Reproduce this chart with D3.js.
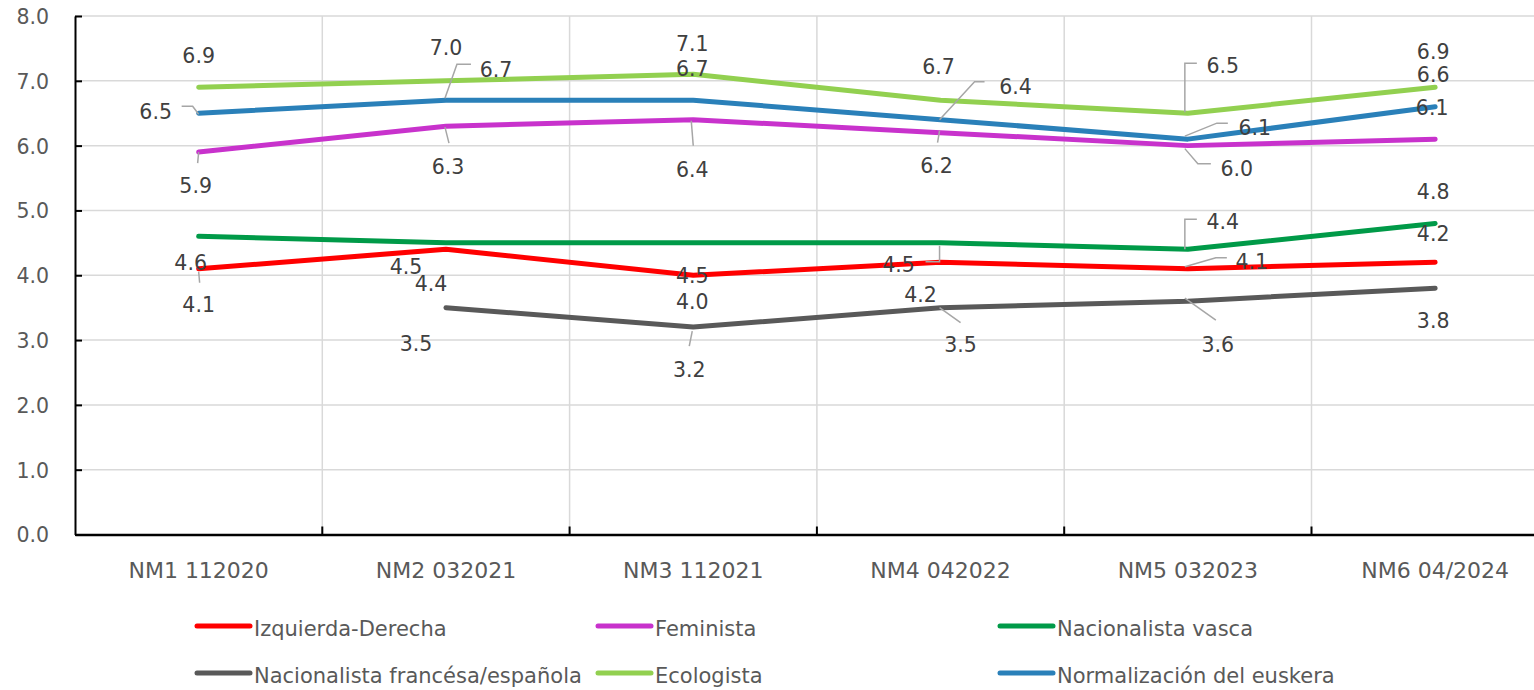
<!DOCTYPE html>
<html>
<head>
<meta charset="utf-8">
<script src="https://cdn.jsdelivr.net/npm/d3@7"></script>
<style>
  html, body { margin: 0; padding: 0; background: #fff; overflow: hidden; }
  svg { display: block; font-family: "DejaVu Sans", sans-serif; }
</style>
</head>
<body>
<svg id="chart" width="1534" height="690"></svg>
<script>
// Survey waves
const categories = ["NM1 112020", "NM2 032021", "NM3 112021", "NM4 042022", "NM5 032023", "NM6 04/2024"];

// Mean scores per axis
const izquierdaDerecha   = [4.1, 4.4, 4.0, 4.2, 4.1, 4.2];
const feminista          = [5.9, 6.3, 6.4, 6.2, 6.0, 6.1];
const nacionalistaVasca  = [4.6, 4.5, 4.5, 4.5, 4.4, 4.8];
const nacionalistaFrEs   = [null, 3.5, 3.2, 3.5, 3.6, 3.8];
const ecologista         = [6.9, 7.0, 7.1, 6.7, 6.5, 6.9];
const normalizacion      = [6.5, 6.7, 6.7, 6.4, 6.1, 6.6];

const seriesNames = [
  "Izquierda-Derecha", "Feminista", "Nacionalista vasca",
  "Nacionalista francésa/española", "Ecologista", "Normalización del euskera"
];
const yTicks = [0, 1, 2, 3, 4, 5, 6, 7, 8];

// ---- presentation ----
const seriesValues = [izquierdaDerecha, feminista, nacionalistaVasca, nacionalistaFrEs, ecologista, normalizacion];
const seriesColors = ["#FF0000", "#C832CC", "#009A48", "#595959", "#92D050", "#2A80B9"];

// Label placement per series / wave: [dx, dy] from the point, optional leader polyline (relative points)
const labelLayout = [
  [ {o:[0,36], l:[[0,3],[1,14]]}, {o:[-15,34]}, {o:[-1,26]}, {o:[-20,32]},
    {o:[64,-7], l:[[-3,-2],[28,-11],[39,-11]]}, {o:[-2,-29]} ],
  [ {o:[-3,34], l:[[0,0],[-1,11]]}, {o:[2,40], l:[[-1,1],[3,17]]}, {o:[-1,50], l:[[-2,1],[0,26]]},
    {o:[-4,33], l:[[-1,-2],[-3,10]]}, {o:[49,23], l:[[-3,3],[10,18],[23,18]]}, {o:[-3,-32]} ],
  [ {o:[-8,26]}, {o:[-40,24]}, {o:[-1,33]}, {o:[-42,22], l:[[-1,3],[-1,19],[-15,19]]},
    {o:[35,-28], l:[[-3,0],[-3,-30],[9,-30]]}, {o:[-2,-32]} ],
  [ null, {o:[-30,36]}, {o:[-4,43], l:[[-1,4],[-4,19]]}, {o:[20,37], l:[[-1,0],[20,15]]},
    {o:[30,43], l:[[-3,-3],[28,19]]}, {o:[-2,32]} ],
  [ {o:[0,-32]}, {o:[0,-33]}, {o:[-1,-31]}, {o:[-2,-34]},
    {o:[35,-48], l:[[-3,-1],[-3,-50],[9,-50]]}, {o:[-2,-36]} ],
  [ {o:[-43,-2], l:[[0,1],[-6,-7],[-17,-7]]}, {o:[50,-31], l:[[-1,-2],[11,-36],[25,-36]]}, {o:[-1,-32]},
    {o:[75,-33], l:[[-1,0],[34,-38],[44,-38]]}, {o:[67,-12], l:[[-3,-3],[29,-16],[40,-16]]}, {o:[-2,-32]} ]
];

const plotLeft = 75, plotTop = 16, plotBottom = 534.5, bandW = 247.3;
const svg = d3.select("#chart");

const x = d3.scaleBand().domain(categories).range([plotLeft, plotLeft + bandW * categories.length]).padding(0);
const y = d3.scaleLinear().domain([0, 8]).range([plotBottom, plotTop]);
const cx = c => x(c) + x.bandwidth() / 2;

// Gridlines
const grid = svg.append("g");
grid.selectAll("line.h").data(yTicks.filter(t => t > 0)).join("line")
  .attr("class", "h")
  .attr("x1", plotLeft).attr("x2", x.range()[1])
  .attr("y1", d => y(d)).attr("y2", d => y(d))
  .attr("stroke", "#D9D9D9").attr("stroke-width", 1.5);
grid.selectAll("line.v").data(categories.slice(1)).join("line")
  .attr("class", "v")
  .attr("x1", d => x(d)).attr("x2", d => x(d))
  .attr("y1", plotTop).attr("y2", plotBottom)
  .attr("stroke", "#D9D9D9").attr("stroke-width", 1.5);

// Y axis
const yAxis = svg.append("g").attr("transform", `translate(${plotLeft},0)`)
  .call(d3.axisLeft(y).tickValues(yTicks).tickFormat(d3.format(".1f"))
    .tickSizeInner(-7).tickSizeOuter(0).tickPadding(26));
yAxis.select(".domain").attr("stroke", "#000").attr("stroke-width", 2);
yAxis.selectAll(".tick line").attr("stroke", "#000").attr("stroke-width", 2);
yAxis.selectAll(".tick text").attr("fill", "#595959").style("font-size", "20.5px")
  .style("font-family", "DejaVu Sans").attr("dy", "0.36em");

// X axis
const xAxis = svg.append("g").attr("transform", `translate(0,${plotBottom})`)
  .call(d3.axisBottom(x).tickSize(0).tickPadding(28));
xAxis.select(".domain").attr("stroke", "#000").attr("stroke-width", 2.5);
xAxis.selectAll(".tick text").attr("fill", "#595959").style("font-size", "22px")
  .style("font-family", "DejaVu Sans");
svg.append("g").selectAll("line").data(categories.slice(1)).join("line")
  .attr("x1", d => x(d)).attr("x2", d => x(d))
  .attr("y1", plotBottom).attr("y2", plotBottom - 8)
  .attr("stroke", "#000").attr("stroke-width", 2);

// Series lines
const line = d3.line()
  .defined(d => d.v != null)
  .x(d => cx(d.c)).y(d => y(d.v));
seriesValues.forEach((vals, i) => {
  const pts = vals.map((v, j) => ({ c: categories[j], v }));
  svg.append("path").datum(pts)
    .attr("d", line)
    .attr("fill", "none")
    .attr("stroke", seriesColors[i])
    .attr("stroke-width", 5)
    .attr("stroke-linecap", "round")
    .attr("stroke-linejoin", "round");
});

// Leader lines and data labels
const leaders = svg.append("g");
const labels = svg.append("g");
seriesValues.forEach((vals, i) => {
  vals.forEach((v, j) => {
    const lay = labelLayout[i][j];
    if (v == null || !lay) return;
    const px = cx(categories[j]), py = y(v);
    if (lay.l) {
      leaders.append("polyline")
        .attr("points", lay.l.map(p => `${px + p[0]},${py + p[1]}`).join(" "))
        .attr("fill", "none").attr("stroke", "#A6A6A6").attr("stroke-width", 1.5);
    }
    labels.append("text")
      .attr("x", px + lay.o[0]).attr("y", py + lay.o[1])
      .attr("text-anchor", "middle").attr("dy", "0.36em")
      .attr("fill", "#404040").style("font-size", "20.5px")
      .text(d3.format(".1f")(v));
  });
});

// Legend
const legendCols = [197, 598, 1000];
const legendRows = [626, 673];
const legend = svg.append("g");
seriesNames.forEach((name, i) => {
  const lx = legendCols[i % 3], ly = legendRows[Math.floor(i / 3)];
  legend.append("line")
    .attr("x1", lx).attr("x2", lx + 53).attr("y1", ly).attr("y2", ly)
    .attr("stroke", seriesColors[i]).attr("stroke-width", 5).attr("stroke-linecap", "round");
  legend.append("text")
    .attr("x", lx + 57).attr("y", ly + 2).attr("dy", "0.36em")
    .attr("fill", "#595959").style("font-size", "21px")
    .text(name);
});
</script>
</body>
</html>
